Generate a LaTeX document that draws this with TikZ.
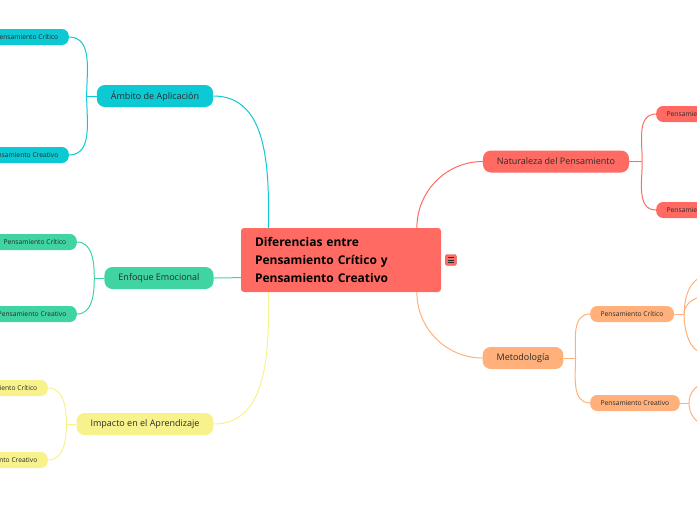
\documentclass[tikz,border=0pt]{standalone}
\usepackage{fontspec}
\setmainfont{Open Sans}
\usetikzlibrary{positioning}
\definecolor{rootred}{HTML}{FF6B63}
\definecolor{aqua}{HTML}{0CC9D3}
\definecolor{mint}{HTML}{3FD4A2}
\definecolor{lemon}{HTML}{F8F28C}
\definecolor{peach}{HTML}{FFB07B}
\definecolor{ink}{HTML}{2B2B2B}

\begin{document}
\begin{tikzpicture}[x=1pt,y=1pt,
root/.style={fill=rootred,rounded corners=3pt,minimum width=200pt,minimum height=64pt,
 text width=172pt,inner xsep=14pt,align=left,text=black,font=\fontsize{12}{18}\selectfont\bfseries},
topic/.style={rounded corners=8pt,minimum height=22pt,inner xsep=14pt,inner ysep=0pt,
 text=ink,font=\fontsize{9}{11}\selectfont},
sub/.style={rounded corners=7pt,minimum height=16pt,inner xsep=10.5pt,inner ysep=0pt,
 text=ink,font=\fontsize{6.7}{8}\selectfont},
menu/.style={fill=rootred,draw=rootred!80!black,rounded corners=2pt,minimum size=11pt,inner sep=0pt},
link/.style={line width=1pt}]
\useasboundingbox (0,0) rectangle (697,-520);
\clip (0,0) rectangle (697,-520);

% centre
\node[root] (root) at (341,-260) {Diferencias entre\\Pensamiento Crítico y\\Pensamiento Creativo};
\node[menu,right=4pt of root] (menu) {};
\foreach \dy in {-2.5,0,2.5}
 \draw[ink,line width=0.9pt] ([xshift=-3pt,yshift=\dy pt]menu.center) -- ++(6pt,0);

% main topics
\node[topic,fill=aqua] (ambito) at (155,-96) {Ámbito de Aplicación};
\node[topic,fill=mint] (enfoque) at (159,-278) {Enfoque Emocional};
\node[topic,fill=lemon] (impacto) at (145,-424) {Impacto en el Aprendizaje};
\node[topic,fill=rootred] (natur) at (556,-161.5) {Naturaleza del Pensamiento};
\node[topic,fill=peach] (metodo) at (523,-358) {Metodología};

\draw[link,aqua] (ambito.east) to[out=0,in=90] (root.156);
\draw[link,mint] (enfoque.east) to[out=0,in=180] (root.190);
\draw[link,lemon] (impacto.east) to[out=0,in=-90] (root.-156);
\draw[link,rootred] (root.23) to[out=90,in=180] (natur.west);
\draw[link,peach] (root.-23) to[out=-90,in=180] (metodo.west);

% left subtopics
\node[sub,fill=aqua,anchor=east] (ambcrit) at (69,-37) {Pensamiento Crítico};
\node[sub,fill=aqua,anchor=east] (ambcrea) at (69,-155) {Pensamiento Creativo};
\node[sub,fill=mint,anchor=east] (enfcrit) at (77,-242) {Pensamiento Crítico};
\node[sub,fill=mint,anchor=east] (enfcrea) at (77,-314) {Pensamiento Creativo};
\node[sub,fill=lemon,anchor=east] (impcrit) at (48,-388) {Pensamiento Crítico};
\node[sub,fill=lemon,anchor=east] (impcrea) at (48,-460) {Pensamiento Creativo};

\draw[link,aqua] (ambito.west) -- ++(-10,0) coordinate (ambfork);
\draw[link,aqua] (ambfork) to[out=90,in=0] (ambcrit.east);
\draw[link,aqua] (ambfork) to[out=-90,in=0] (ambcrea.east);
\draw[link,mint] (enfoque.west) -- ++(-10,0) coordinate (enffork);
\draw[link,mint] (enffork) to[out=90,in=0] (enfcrit.east);
\draw[link,mint] (enffork) to[out=-90,in=0] (enfcrea.east);
\draw[link,lemon] (impacto.west) -- ++(-10,0) coordinate (impfork);
\draw[link,lemon] (impfork) to[out=90,in=0] (impcrit.east);
\draw[link,lemon] (impfork) to[out=-90,in=0] (impcrea.east);

% right subtopics
\node[sub,fill=rootred,anchor=west] (natcrit) at (656,-114) {Pensamiento Crítico};
\node[sub,fill=rootred,anchor=west] (natcrea) at (656,-210) {Pensamiento Creativo};
\node[sub,fill=peach,anchor=west] (metcrit) at (590,-314) {Pensamiento Crítico};
\node[sub,fill=peach,anchor=west] (metcrea) at (590,-403) {Pensamiento Creativo};

\draw[link,rootred] (natur.east) -- ++(13,0) coordinate (natfork);
\draw[link,rootred] (natfork) to[out=90,in=180] (natcrit.west);
\draw[link,rootred] (natfork) to[out=-90,in=180] (natcrea.west);
\draw[link,peach] (metodo.east) -- ++(12,0) coordinate (metfork);
\draw[link,peach] (metfork) to[out=90,in=180] (metcrit.west);
\draw[link,peach] (metfork) to[out=-90,in=180] (metcrea.west);

% branches running off the right edge
\coordinate (critA) at (708,-276);
\coordinate (critB) at (708,-296);
\coordinate (critC) at (708,-354);
\coordinate (creaA) at (708,-383);
\coordinate (creaB) at (708,-425);
\draw[link,peach] (metcrit.east) -- ++(10,0) coordinate (critfork);
\draw[link,peach] (critfork) to[out=90,in=180] (critA);
\draw[link,peach] (critfork) to[out=90,in=180] (critB);
\draw[link,peach] (critfork) to[out=-90,in=180] (critC);
\draw[link,peach] (metcrea.east) -- ++(9,0) coordinate (creafork);
\draw[link,peach] (creafork) to[out=90,in=180] (creaA);
\draw[link,peach] (creafork) to[out=-90,in=180] (creaB);
\end{tikzpicture}
\end{document}
